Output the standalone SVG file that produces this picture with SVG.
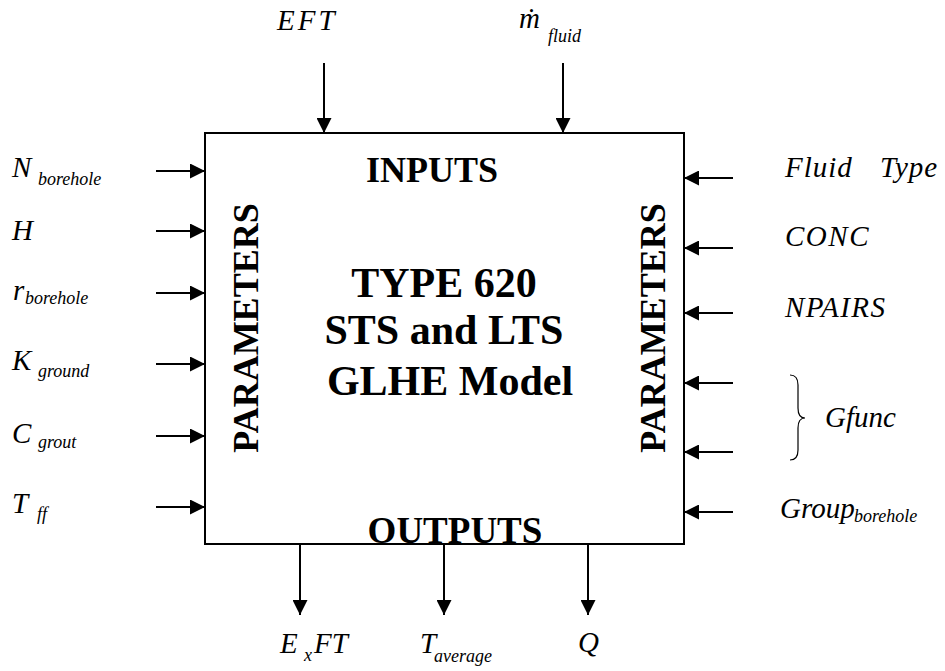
<svg xmlns="http://www.w3.org/2000/svg" width="945" height="671" viewBox="0 0 945 671">
<style>
text{font-family:"Liberation Serif","Times New Roman",serif;fill:#000}
.lb{font-style:italic;font-size:29px}
.sb{font-style:italic;font-size:18px}
.bd{font-weight:bold}
.ar{stroke:#000;stroke-width:2;fill:none;marker-end:url(#ah)}
</style>
<defs>
<marker id="ah" viewBox="0 0 15 15" refX="15" refY="7.5" markerWidth="15" markerHeight="15" markerUnits="userSpaceOnUse" orient="auto">
<path d="M0,0 L15,7.5 L0,15 Z" fill="#000"/>
</marker>
</defs>
<rect width="945" height="671" fill="#fff"/>
<g id="model">
<rect x="205" y="133" width="479" height="411" fill="none" stroke="#000" stroke-width="2"/>
<text class="bd" x="432" y="182" font-size="36" text-anchor="middle">INPUTS</text>
<text class="bd" x="444" y="297" font-size="42" text-anchor="middle">TYPE 620</text>
<text class="bd" x="444" y="344" font-size="42" text-anchor="middle">STS and LTS</text>
<text class="bd" x="450" y="395" font-size="42" text-anchor="middle">GLHE Model</text>
<text class="bd" x="455" y="543" font-size="37" text-anchor="middle">OUTPUTS</text>
<text class="bd" font-size="36" text-anchor="middle" transform="translate(258,328) rotate(-90)">PARAMETERS</text>
<text class="bd" font-size="36" text-anchor="middle" transform="translate(665,328) rotate(-90)">PARAMETERS</text>
</g>
<g id="connectors">
<line class="ar" x1="324" y1="63" x2="324" y2="133"/>
<line class="ar" x1="563" y1="63" x2="563" y2="133"/>
<line class="ar" x1="156" y1="171" x2="205" y2="171"/>
<line class="ar" x1="156" y1="231" x2="205" y2="231"/>
<line class="ar" x1="156" y1="293" x2="205" y2="293"/>
<line class="ar" x1="156" y1="364" x2="205" y2="364"/>
<line class="ar" x1="156" y1="436" x2="205" y2="436"/>
<line class="ar" x1="156" y1="507" x2="205" y2="507"/>
<line class="ar" x1="733" y1="178" x2="684" y2="178"/>
<line class="ar" x1="733" y1="248" x2="684" y2="248"/>
<line class="ar" x1="733" y1="313" x2="684" y2="313"/>
<line class="ar" x1="733" y1="383" x2="684" y2="383"/>
<line class="ar" x1="733" y1="452" x2="684" y2="452"/>
<line class="ar" x1="733" y1="512" x2="684" y2="512"/>
<line class="ar" x1="300" y1="544" x2="300" y2="615"/>
<line class="ar" x1="444" y1="544" x2="444" y2="615"/>
<line class="ar" x1="588" y1="544" x2="588" y2="615"/>
</g>
<g id="in-eft"><text class="lb" x="277" y="30" letter-spacing="3">EFT</text></g>
<g id="in-mfluid"><text class="lb" x="519" y="28">ṁ</text><text class="sb" x="548" y="42">fluid</text></g>
<g id="p-nborehole"><text class="lb" x="12" y="177">N</text><text class="sb" x="38" y="185">borehole</text></g>
<g id="p-h"><text class="lb" x="12" y="240">H</text></g>
<g id="p-rborehole"><text class="lb" x="13" y="300">r</text><text class="sb" x="25" y="304">borehole</text></g>
<g id="p-kground"><text class="lb" x="12" y="370">K</text><text class="sb" x="38" y="377">ground</text></g>
<g id="p-cgrout"><text class="lb" x="12" y="443">C</text><text class="sb" x="38" y="448">grout</text></g>
<g id="p-tff"><text class="lb" x="12" y="513">T</text><text class="sb" x="37" y="520">ff</text></g>
<g id="p-fluidtype"><text class="lb" y="177" letter-spacing="1"><tspan x="785">Fluid</tspan><tspan x="880">Type</tspan></text></g>
<g id="p-conc"><text class="lb" x="785" y="246" letter-spacing="1.5">CONC</text></g>
<g id="p-npairs"><text class="lb" x="785" y="317" letter-spacing="1.4">NPAIRS</text></g>
<g id="p-gfunc">
<path d="M790,375 Q798,375 798,385 L798,408 Q798,418 805,418 Q798,418 798,428 L798,450 Q798,460 790,460" fill="none" stroke="#000" stroke-width="1.2"/>
<text class="lb" x="825" y="427">Gfunc</text>
</g>
<g id="p-groupborehole"><text class="lb" x="780" y="518">Group</text><text class="sb" x="854" y="522">borehole</text></g>
<g id="out-exft"><text class="lb" x="280" y="653">E</text><text class="sb" x="304" y="661">x</text><text class="lb" x="314" y="653">FT</text></g>
<g id="out-taverage"><text class="lb" x="420" y="653">T</text><text class="sb" x="434" y="662">average</text></g>
<g id="out-q"><text class="lb" x="578" y="652">Q</text></g>
</svg>
